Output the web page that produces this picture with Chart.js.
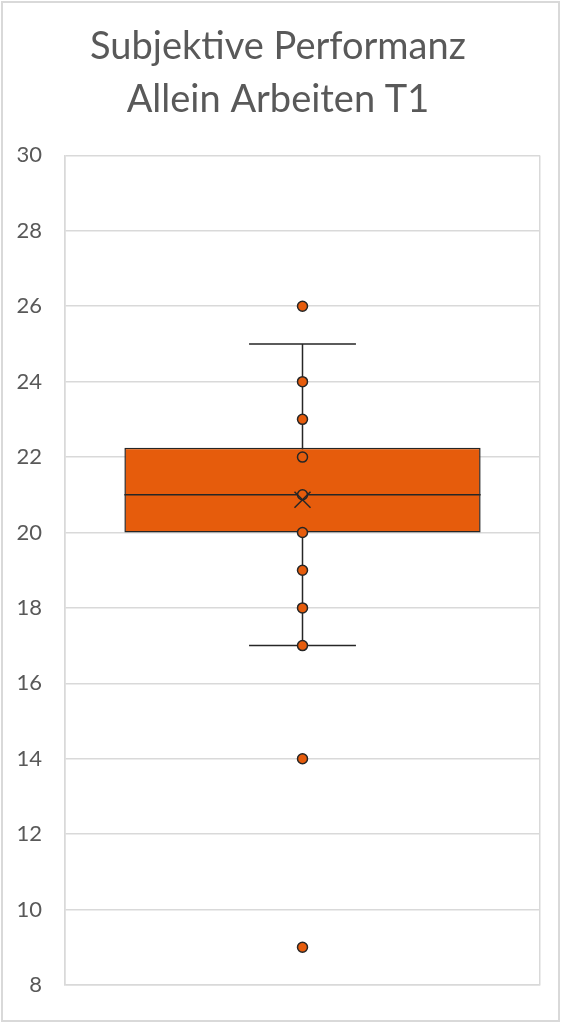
<!DOCTYPE html>
<html>
<head>
<meta charset="utf-8">
<script src="https://cdn.jsdelivr.net/npm/chart.js@4.4.1/dist/chart.umd.min.js"></script>
<style>
  body { margin: 0; background: #fff; }
  #wrap { position: relative; width: 561px; height: 1024px; }
  #frame { position: absolute; left: 1px; top: 1px; width: 555px; height: 1017px; border: 2px solid #d9d9d9; }
</style>
</head>
<body>
<div id="wrap">
  <canvas id="boxChart" width="561" height="1024"></canvas>
  <div id="frame"></div>
</div>
<script>
// Daten
const categories = ["T1"];
const quartiles = [20, 22.25]; // Q1, Q3
const median = 21;
const mean = 20.87;
const whiskers = [17, 25];
const pointValues = [26, 24, 23, 22, 21, 20, 19, 18, 17, 14, 9];
const yTicks = { min: 8, max: 30, step: 2 };

const orange = "#E65C0C";
const dark = "#262626";

// Whisker, Median, Mittelwert zeichnen
const boxExtras = {
  id: "boxExtras",
  beforeDatasetsDraw(chart) {
    const { ctx, scales: { x, y } } = chart;
    const cx = x.getPixelForValue(0);
    const half = (x.width / categories.length) * 0.1125;
    ctx.save();
    ctx.strokeStyle = dark;
    ctx.lineWidth = 1.5;
    ctx.beginPath();
    ctx.moveTo(cx, y.getPixelForValue(whiskers[0]));
    ctx.lineTo(cx, y.getPixelForValue(whiskers[1]));
    whiskers.forEach((w) => {
      const py = y.getPixelForValue(w);
      ctx.moveTo(cx - half, py);
      ctx.lineTo(cx + half, py);
    });
    ctx.stroke();
    ctx.restore();
  },
  afterDatasetDraw(chart, args) {
    if (args.index !== 0) return;
    const { ctx, scales: { y } } = chart;
    const bar = args.meta.data[0];
    const py = y.getPixelForValue(median);
    ctx.save();
    ctx.strokeStyle = dark;
    ctx.lineWidth = 1.5;
    ctx.beginPath();
    ctx.moveTo(bar.x - bar.width / 2, py);
    ctx.lineTo(bar.x + bar.width / 2, py);
    ctx.stroke();
    ctx.restore();
  },
  afterDatasetsDraw(chart) {
    const { ctx, scales: { x, y } } = chart;
    const cx = x.getPixelForValue(0);
    const py = y.getPixelForValue(mean);
    const s = 8;
    ctx.save();
    ctx.strokeStyle = dark;
    ctx.lineWidth = 1.5;
    ctx.beginPath();
    ctx.moveTo(cx - s, py - s);
    ctx.lineTo(cx + s, py + s);
    ctx.moveTo(cx + s, py - s);
    ctx.lineTo(cx - s, py + s);
    ctx.stroke();
    ctx.restore();
  },
};

const ctx = document.getElementById("boxChart").getContext("2d");
new Chart(ctx, {
  data: {
    labels: categories,
    datasets: [
      {
        type: "bar",
        data: [quartiles],
        backgroundColor: orange,
        borderColor: dark,
        borderWidth: 1.5,
        borderSkipped: false,
        barPercentage: 0.75,
        categoryPercentage: 1,
        order: 2,
      },
      {
        type: "line",
        data: pointValues.map((v) => ({ x: categories[0], y: v })),
        showLine: false,
        pointRadius: 5,
        pointBackgroundColor: orange,
        pointBorderColor: dark,
        pointBorderWidth: 1.5,
        order: 1,
      },
    ],
  },
  options: {
    responsive: false,
    animation: false,
    layout: { padding: { left: 8, right: 13, top: 20, bottom: 39 } },
    plugins: {
      legend: { display: false },
      tooltip: { enabled: false },
      title: {
        display: true,
        text: ["Subjektive Performanz", "Allein Arbeiten T1"],
        color: "#595959",
        font: { family: "Lato", size: 38, weight: "normal", lineHeight: 1.4 },
        padding: { top: 0, bottom: 29 },
      },
    },
    scales: {
      x: {
        ticks: { display: false },
        grid: { color: "#d9d9d9", lineWidth: 1.5, drawTicks: false },
        border: { color: "#d9d9d9", width: 1.5 },
      },
      y: {
        min: yTicks.min,
        max: yTicks.max,
        afterFit: (s) => { s.width = 57; },
        ticks: {
          stepSize: yTicks.step,
          color: "#595959",
          font: { family: "Lato", size: 22 },
          padding: 23,
        },
        grid: { color: "#d9d9d9", lineWidth: 1.5, drawTicks: false },
        border: { color: "#d9d9d9", width: 1.5 },
      },
      // leere Achse rechts, damit der Titel mittig über dem Bild sitzt
      yRight: {
        position: "right",
        afterFit: (s) => { s.width = 8; },
        ticks: { display: false },
        grid: { display: false },
        border: { display: false },
      },
    },
  },
  plugins: [boxExtras],
});
</script>
</body>
</html>
